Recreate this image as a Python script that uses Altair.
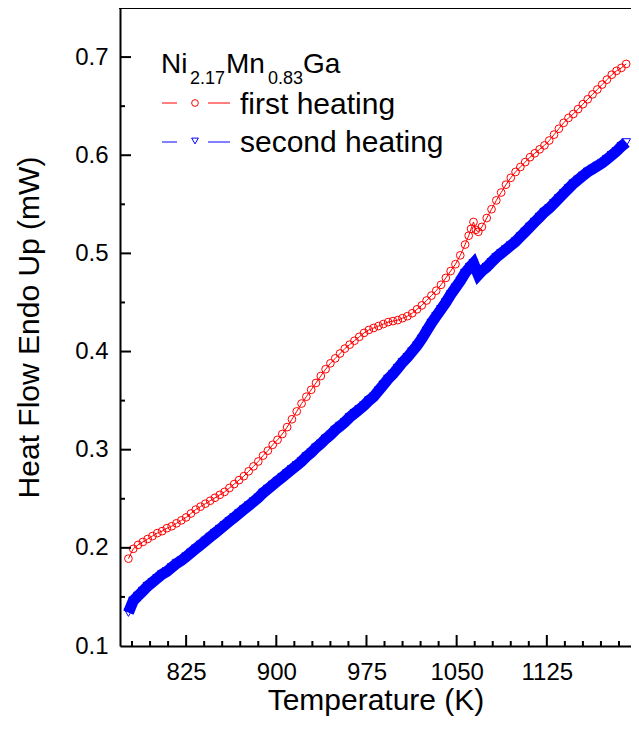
import altair as alt
import pandas as pd

# ---- data ----
t_first = [777, 781, 785, 789, 793, 797, 801, 805, 809, 813, 817, 821, 825, 829, 833, 837, 841, 845,
           849, 853, 857, 861, 865, 869, 873, 877, 881, 885, 889, 893, 897, 901, 905, 909, 913, 917,
           921, 925, 929, 933, 937, 941, 945, 949, 953, 957, 961, 965, 969, 973, 977, 981, 985, 989,
           993, 997, 1001, 1005, 1009, 1013, 1017, 1021, 1025, 1029, 1033, 1037, 1041, 1045, 1049,
           1053, 1057, 1060, 1062, 1064, 1066, 1068, 1071, 1075, 1079, 1083, 1087, 1091, 1095, 1099,
           1103, 1107, 1111, 1115, 1119, 1123, 1127, 1131, 1135, 1139, 1143, 1147, 1151, 1155, 1159,
           1163, 1167, 1171, 1175, 1179, 1183, 1187, 1191]
hf_first = [0.189, 0.199, 0.203, 0.206, 0.209, 0.212, 0.215, 0.217, 0.220, 0.222, 0.225, 0.228, 0.231,
            0.235, 0.239, 0.242, 0.245, 0.248, 0.251, 0.254, 0.257, 0.261, 0.265, 0.269, 0.273, 0.278,
            0.283, 0.288, 0.294, 0.299, 0.305, 0.310, 0.316, 0.323, 0.331, 0.339, 0.347, 0.354, 0.361,
            0.368, 0.375, 0.382, 0.388, 0.393, 0.398, 0.403, 0.407, 0.411, 0.415, 0.419, 0.422, 0.424,
            0.426, 0.428, 0.430, 0.431, 0.432, 0.434, 0.436, 0.439, 0.443, 0.447, 0.452, 0.457, 0.462,
            0.468, 0.475, 0.482, 0.489, 0.498, 0.509, 0.518, 0.525, 0.532, 0.524, 0.522, 0.527, 0.536,
            0.545, 0.554, 0.562, 0.570, 0.577, 0.583, 0.588, 0.593, 0.598, 0.602, 0.606, 0.610, 0.615,
            0.621, 0.627, 0.633, 0.638, 0.642, 0.647, 0.652, 0.657, 0.662, 0.667, 0.672, 0.677, 0.682,
            0.686, 0.689, 0.693]

t_second = [777, 781, 785, 789, 793, 797, 801, 805, 809, 813, 817, 821, 825, 829, 833, 837, 841, 845,
            849, 853, 857, 861, 865, 869, 873, 877, 881, 885, 889, 893, 897, 901, 905, 909, 913, 917,
            921, 925, 929, 933, 937, 941, 945, 949, 953, 957, 961, 965, 969, 973, 977, 981, 985, 989,
            993, 997, 1001, 1005, 1009, 1013, 1017, 1021, 1025, 1029, 1033, 1037, 1041, 1045, 1049,
            1053, 1057, 1061, 1064, 1066, 1068, 1071, 1075, 1079, 1083, 1087, 1091, 1095, 1099, 1103,
            1107, 1111, 1115, 1119, 1123, 1127, 1131, 1135, 1139, 1143, 1147, 1151, 1155, 1159, 1163,
            1167, 1171, 1175, 1179, 1183, 1187, 1191]
hf_second = [0.134, 0.146, 0.151, 0.156, 0.161, 0.165, 0.169, 0.173, 0.176, 0.180, 0.184, 0.187, 0.191,
             0.195, 0.199, 0.203, 0.207, 0.211, 0.215, 0.219, 0.223, 0.227, 0.231, 0.235, 0.239, 0.243,
             0.247, 0.251, 0.256, 0.260, 0.264, 0.268, 0.272, 0.276, 0.280, 0.284, 0.288, 0.293, 0.297,
             0.302, 0.306, 0.311, 0.315, 0.320, 0.324, 0.328, 0.333, 0.337, 0.341, 0.345, 0.350, 0.354,
             0.360, 0.366, 0.372, 0.377, 0.383, 0.389, 0.394, 0.400, 0.406, 0.413, 0.421, 0.429, 0.436,
             0.443, 0.450, 0.458, 0.465, 0.472, 0.480, 0.486, 0.490, 0.484, 0.478, 0.482, 0.486, 0.491,
             0.496, 0.500, 0.504, 0.508, 0.512, 0.517, 0.522, 0.527, 0.532, 0.537, 0.542, 0.546, 0.551,
             0.556, 0.561, 0.566, 0.571, 0.575, 0.579, 0.583, 0.586, 0.589, 0.592, 0.596, 0.600, 0.604,
             0.609, 0.613]

x_major = [825, 900, 975, 1050, 1125]
x_minor = [780, 795, 810, 840, 855, 870, 885, 915, 930, 945, 960, 990, 1005, 1020, 1035, 1065,
           1080, 1095, 1110, 1140, 1155, 1170, 1185]
y_labels = [0.1, 0.2, 0.3, 0.4, 0.5, 0.6, 0.7]
y_major = [0.2, 0.3, 0.4, 0.5, 0.6, 0.7]
y_minor = [0.15, 0.25, 0.35, 0.45, 0.55, 0.65]

x_domain = [770, 1195]
y_domain = [0.1, 0.75]

W, H = 511, 638
FONT = "Liberation Sans"
RED = "#ff0000"
BLUE = "#0000ff"

df1 = pd.DataFrame({"T": t_first, "HF": hf_first})
df2 = pd.DataFrame({"T": t_second, "HF": hf_second})

xs = alt.Scale(domain=x_domain, nice=False, zero=False)
ys = alt.Scale(domain=y_domain, nice=False, zero=False)

# the same axis definition is given to every layer so the shared axes merge cleanly
XAX = alt.Axis(values=x_major, format="d", ticks=False, labelPadding=14,
               title="Temperature (K)", titlePadding=1, labelFlush=False)
YAX = alt.Axis(values=y_labels, format=".1f", ticks=False, labelPadding=12,
               title="Heat Flow Endo Up (mW)", titlePadding=30)


def xenc(field):
    return alt.X(field, type="quantitative", scale=xs, axis=XAX)


def yenc(field):
    return alt.Y(field, type="quantitative", scale=ys, axis=YAX)


red_line = alt.Chart(df1).mark_line(color=RED, strokeWidth=1).encode(x=xenc("T"), y=yenc("HF"))
red_pts = alt.Chart(df1).mark_point(shape="circle", filled=False, color=RED, size=60, strokeWidth=1,
                                     opacity=1).encode(x=xenc("T"), y=yenc("HF"))
blue_line = alt.Chart(df2).mark_line(color=BLUE, strokeWidth=11).encode(x=xenc("T"), y=yenc("HF"))
blue_pts = alt.Chart(df2).mark_point(shape="triangle-down", filled=False, color=BLUE, size=75,
                                      strokeWidth=1, opacity=1).encode(x=xenc("T"), y=yenc("HF"))

one = alt.Data(values=[{}])


# inward axis ticks: each tick value goes through the shared scale as a datum
def xtick(v, length):
    return alt.Chart(one).mark_rule(color="black", strokeWidth=2).encode(
        x=alt.XDatum(v, type="quantitative", scale=xs, axis=XAX),
        y=alt.value(H), y2=alt.value(H - length))


def ytick(v, length):
    return alt.Chart(one).mark_rule(color="black", strokeWidth=2).encode(
        y=alt.YDatum(v, type="quantitative", scale=ys, axis=YAX),
        x=alt.value(0), x2=alt.value(length))


ticks = ([xtick(v, 11) for v in x_major] + [xtick(v, 5) for v in x_minor] +
         [ytick(v, 11) for v in y_major] + [ytick(v, 5) for v in y_minor])


def txt(s, x, y, size):
    return alt.Chart(one).mark_text(align="left", baseline="alphabetic", font=FONT, fontSize=size,
                                    color="black").encode(
        x=alt.value(x), y=alt.value(y), text=alt.value(s))


def seg(x1, x2, y, color, width=1):
    return alt.Chart(one).mark_rule(color=color, strokeWidth=width).encode(
        x=alt.value(x1), x2=alt.value(x2), y=alt.value(y))


def sym(x, y, shape, color):
    return alt.Chart(one).mark_point(shape=shape, filled=False, color=color, size=45, strokeWidth=1,
                                     opacity=1).encode(x=alt.value(x), y=alt.value(y))


top_frame = seg(-1, W, 0, "black", 2)

legend = [
    txt("Ni", 41, 65, 28), txt("2.17", 70, 76, 18), txt("Mn", 106, 65, 28), txt("0.83", 148, 76, 18),
    txt("Ga", 183, 65, 28),
    seg(42, 57, 95, RED), sym(75, 95, "circle", RED), seg(88, 110, 95, RED),
    txt("first heating", 120, 106, 30),
    seg(42, 57, 134, BLUE), sym(75, 133, "triangle-down", BLUE), seg(88, 110, 134, BLUE),
    txt("second heating", 120, 144, 30),
]

chart = alt.layer(
    red_line, blue_line, blue_pts, red_pts, *ticks, top_frame, *legend
).properties(
    width=W, height=H,
    autosize=alt.AutoSizeParams(type="none"),
    padding={"left": 112, "top": 0, "right": 0, "bottom": 70},
).configure_view(stroke=None).configure_axis(
    grid=False, domainColor="black", domainWidth=2, tickColor="black", tickWidth=2,
    labelFont=FONT, labelFontSize=24, labelColor="black",
    titleFont=FONT, titleFontSize=30, titleFontWeight="normal", titleColor="black",
)

chart.save("out.html", embed_options={"renderer": "svg", "actions": False})
